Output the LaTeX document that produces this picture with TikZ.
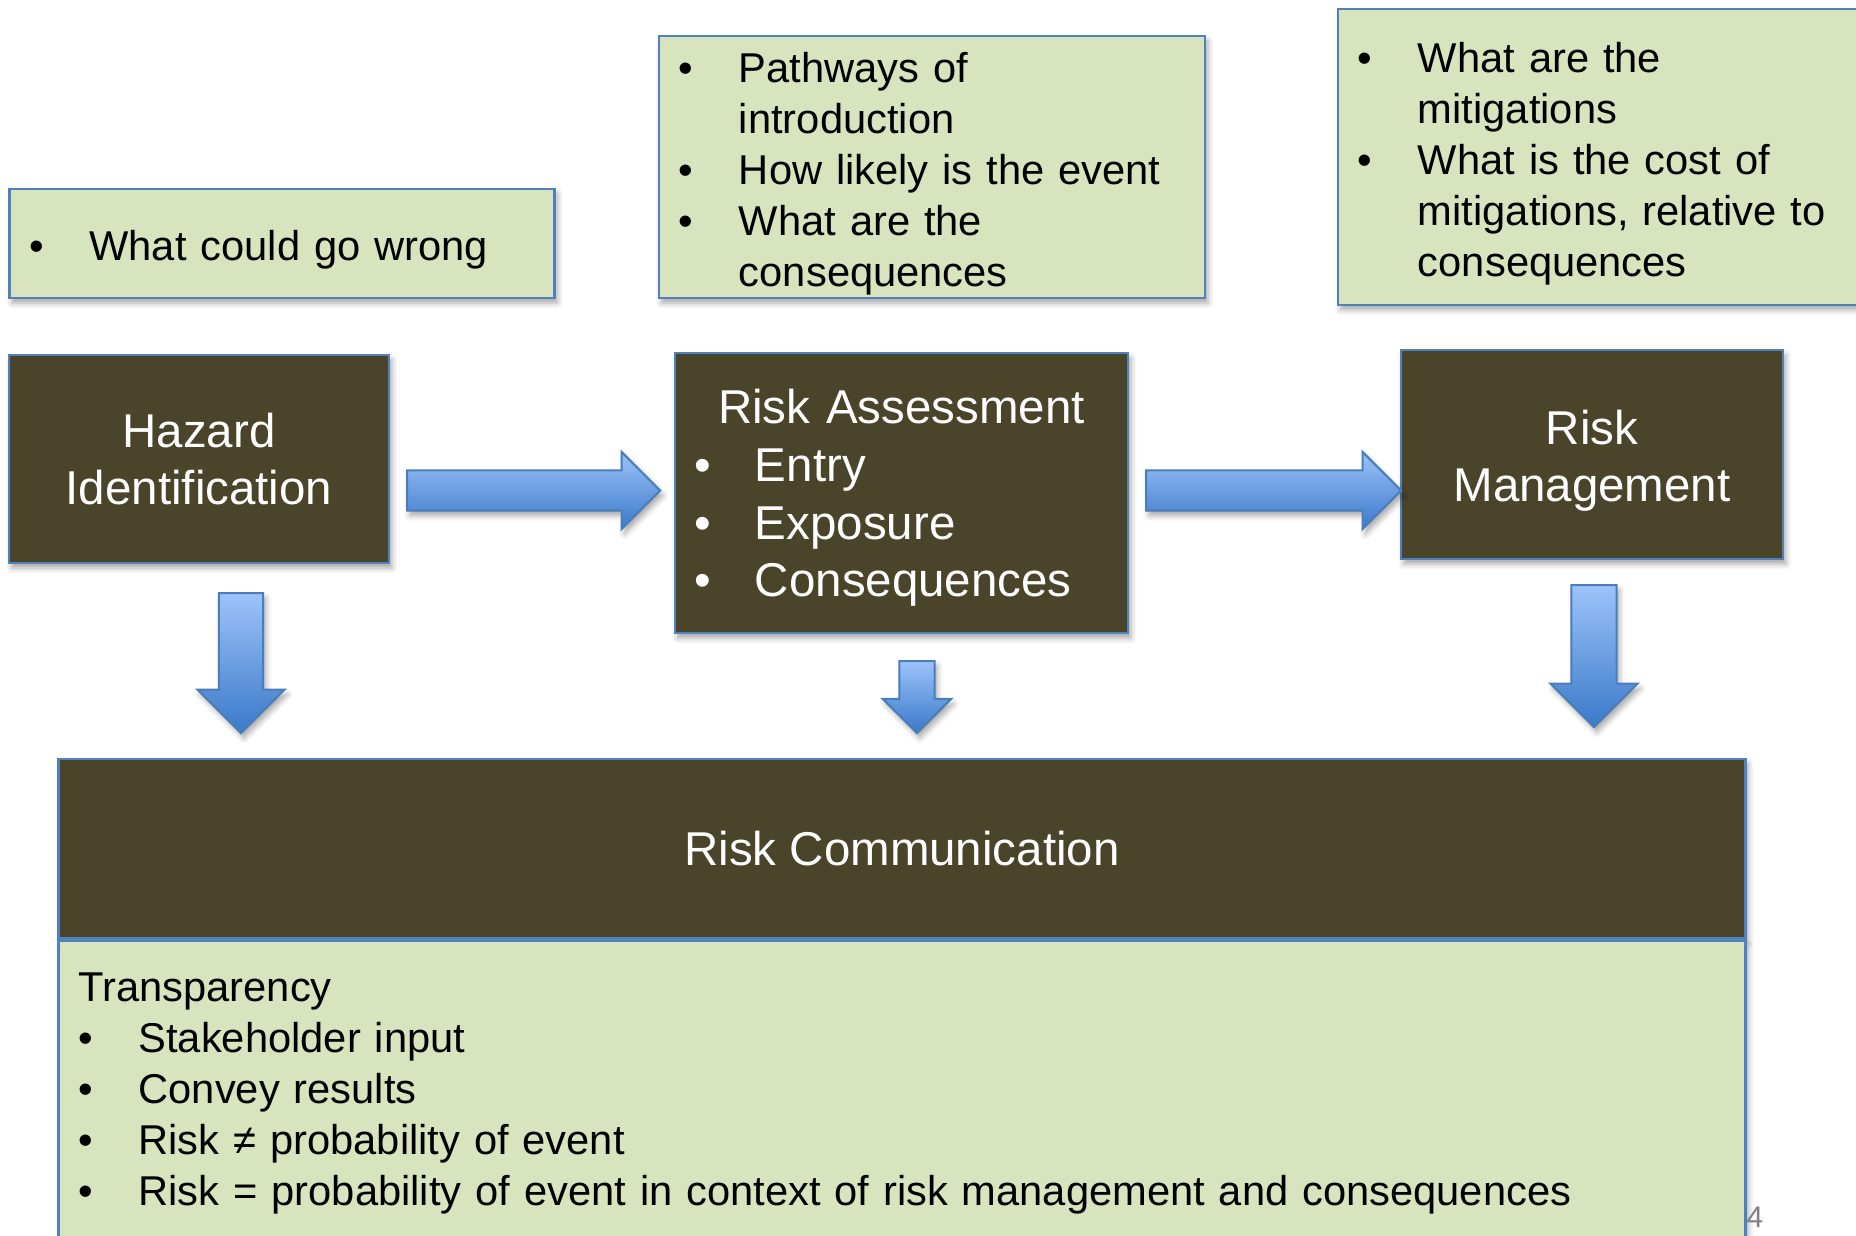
\documentclass[tikz,border=0pt]{standalone}
\usepackage{fontspec}
\setmainfont{Liberation Sans}
\usetikzlibrary{
    shapes.arrows,
    shadows.blur,
    positioning
}
\definecolor{stagefill}{RGB}{74,68,42}
\definecolor{notefill}{RGB}{215,228,189}
\definecolor{edgeblue}{RGB}{79,129,189}
\definecolor{arrowtop}{RGB}{157,195,250}
\definecolor{arrowbot}{RGB}{58,121,201}
\definecolor{arrowedge}{RGB}{74,126,187}
\newlength{\bulhang}
\setlength{\bulhang}{17.1pt}
% bullet line with hanging indent
\newcommand{\bul}{\par\noindent\hangindent=\bulhang\hangafter=1\makebox[\bulhang][l]{\textbullet}}
% extra depth under the last line
\newcommand{\lowstrut}{\rule[-4.8pt]{0pt}{0pt}}
\tikzset{
    softshadow/.style={blur shadow={shadow xshift=0.8pt, shadow yshift=-1.4pt, shadow blur radius=1.6pt, shadow opacity=35}},
    notebox/.style={draw=edgeblue, fill=notefill, line width=0.7pt, inner xsep=0.2cm, inner ysep=-3pt, align=left, font=\fontsize{11.85}{14.5}\selectfont, softshadow},
    stagebox/.style={draw=edgeblue, fill=stagefill, text=white, line width=0.7pt, align=center, font=\fontsize{13.5}{16.4}\selectfont, softshadow},
    flow/.style={single arrow, draw=arrowedge, line width=0.6pt, top color=arrowtop, bottom color=arrowbot, single arrow tip angle=90, anchor=tail, softshadow}
}
\begin{document}
\begin{tikzpicture}[x=0.01cm, y=-0.01cm]
    \useasboundingbox (0,0) rectangle (1856,1236);

    % questions above each stage
    \node[notebox, minimum width=5.45cm, minimum height=1.09cm, text width=5.05cm] (wrong) at (282,243.5)
        {\bul What could go wrong\lowstrut\par};
    \node[notebox, minimum width=5.46cm, minimum height=2.62cm, text width=5.06cm] (likely) at (932,167)
        {\bul Pathways of\newline introduction
         \bul How likely is the event
         \bul What are the\newline consequences\lowstrut\par};
    \node[notebox, minimum width=5.46cm, minimum height=2.955cm, text width=5.06cm] (mitig) at (1611,157)
        {\bul What are the\newline mitigations
         \bul What is the cost of\newline mitigations, relative to\newline consequences\lowstrut\par};

    % the three stages
    \node[stagebox, minimum width=3.80cm, minimum height=2.08cm] (haz) at (199,459) {Hazard\\Identification};
    \node[stagebox, minimum width=4.53cm, minimum height=2.80cm, text width=4.13cm, align=left, inner xsep=0.2cm] (ra) at (901.5,493)
        {\rule{0pt}{12.7pt}{\centering Risk Assessment\par}
         \bul Entry
         \bul Exposure
         \bul Consequences\par};
    \node[stagebox, minimum width=3.82cm, minimum height=2.09cm] (rm) at (1592,454.5) {\rule{0pt}{13.3pt}Risk\\Management};

    % communication across the bottom
    \node[stagebox, minimum width=16.86cm, minimum height=1.79cm] (comm) at (902,848.5) {Risk Communication};
    \node[notebox, below=0pt of comm, minimum width=16.86cm, text width=16.46cm, inner ysep=9.1pt] (commtext)
        {Transparency
         \bul Stakeholder input
         \bul Convey results
         \bul Risk ≠ probability of event
         \bul Risk = probability of event in context of risk management and consequences\par};

    % block arrows
    \node[flow, inner sep=0.19cm, minimum height=2.53cm, single arrow head extend=0.185cm] (haz-ra) at (406,490.5) {};
    \node[flow, inner sep=0.19cm, minimum height=2.55cm, single arrow head extend=0.185cm] (ra-rm) at (1145,490.5) {};
    \node[flow, inner sep=0.21cm, shape border rotate=270, minimum height=1.40cm, single arrow head extend=0.215cm] (haz-comm) at (241,592) {};
    \node[flow, inner sep=0.165cm, shape border rotate=270, minimum height=0.72cm, single arrow head extend=0.165cm] (ra-comm) at (917,660) {};
    \node[flow, inner sep=0.215cm, shape border rotate=270, minimum height=1.42cm, single arrow head extend=0.21cm] (rm-comm) at (1594,584) {};

    \node[text=gray, inner sep=0pt, anchor=base west, font=\fontsize{8.5}{10}\selectfont] (pagenum) at (1746,1227) {4};
\end{tikzpicture}
\end{document}
